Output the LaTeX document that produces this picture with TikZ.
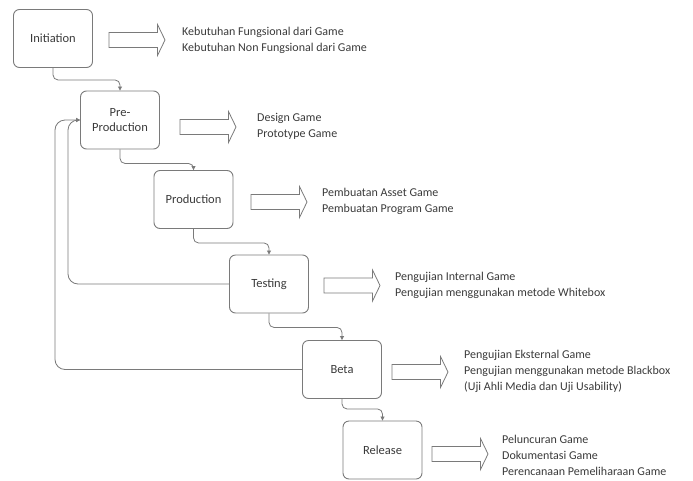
\documentclass[tikz,border=0pt]{standalone}
\usepackage{fontspec}
\setmainfont{Carlito}
\usetikzlibrary{arrows.meta}
\definecolor{linegray}{HTML}{7A7A7A}
\definecolor{textgray}{HTML}{3A3A3A}
\begin{document}
\begin{tikzpicture}[x=1pt,y=-1pt,
  phase/.style={draw=linegray, line width=0.9pt, rounded corners=6pt,
    minimum width=79pt, minimum height=58pt, align=center, inner sep=0pt,
    font=\fontsize{12.5}{15}\selectfont, text=textgray},
  flow/.style={draw=linegray, line width=0.8pt, rounded corners=5pt,
    -{Triangle[length=4pt,width=4pt]}},
  loopback/.style={flow, rounded corners=10pt},
  blockarrow/.style={draw=linegray, line width=0.8pt, fill=white},
  note/.style={anchor=west, align=left, inner sep=0pt,
    font=\fontsize{12}{16}\selectfont, text=textgray},
  blockarr/.pic={\draw[blockarrow] (0,-7.5) -- (48.5,-7.5) -- (48.5,-15.5)
    -- (56,0) -- (48.5,15.5) -- (48.5,7.5) -- (0,7.5) -- cycle;}]
\useasboundingbox (0,0) rectangle (693,480);

% phases
\node[phase] (init) at (53,38.5) {Initiation};
\node[phase] (pre) at (120,120) {Pre-\\Production};
\node[phase] (prod) at (193.5,199.5) {Production};
\node[phase] (test) at (269,284) {Testing};
\node[phase] (beta) at (342,369.5) {Beta};
\node[phase] (rel) at (382.5,450) {Release};

% outputs of each phase
\pic (a1) at (109,40) {blockarr};
\node[note] (n1) at (182,40.5) {Kebutuhan Fungsional dari Game\\Kebutuhan Non Fungsional dari Game};
\pic (a2) at (180,127) {blockarr};
\node[note] (n2) at (257,126) {Design Game\\Prototype Game};
\pic (a3) at (251,202) {blockarr};
\node[note] (n3) at (322,201.5) {Pembuatan Asset Game\\Pembuatan Program Game};
\pic (a4) at (324,285.5) {blockarr};
\node[note] (n4) at (395,285.5) {Pengujian Internal Game\\Pengujian menggunakan metode Whitebox};
\pic (a5) at (392,372) {blockarr};
\node[note] (n5) at (464,371) {Pengujian Eksternal Game\\Pengujian menggunakan metode Blackbox\\(Uji Ahli Media dan Uji Usability)};
\pic (a6) at (432,454) {blockarr};
\node[note] (n6) at (502,455) {Peluncuran Game\\Dokumentasi Game\\Perencanaan Pemeliharaan Game};

% sequence between phases
\draw[flow] (init.south) -- ++(0,12) -| (pre.north);
\draw[flow] (pre.south) -- ++(0,14) -| (prod.north);
\draw[flow] (prod.south) -- ++(0,14) -| (test.north);
\draw[flow] (test.south) -- ++(0,14) -| (beta.north);
\draw[flow] (beta.south) -- ++(0,10) -| (rel.north);

% iterations back to pre-production
\coordinate (inner) at (68,0);
\coordinate (outer) at (55,0);
\draw[loopback] (test.west) -| (inner |- pre.west) -- (pre.west);
\draw[loopback] (beta.west) -| (outer |- pre.west) -- (pre.west);
\end{tikzpicture}
\end{document}
